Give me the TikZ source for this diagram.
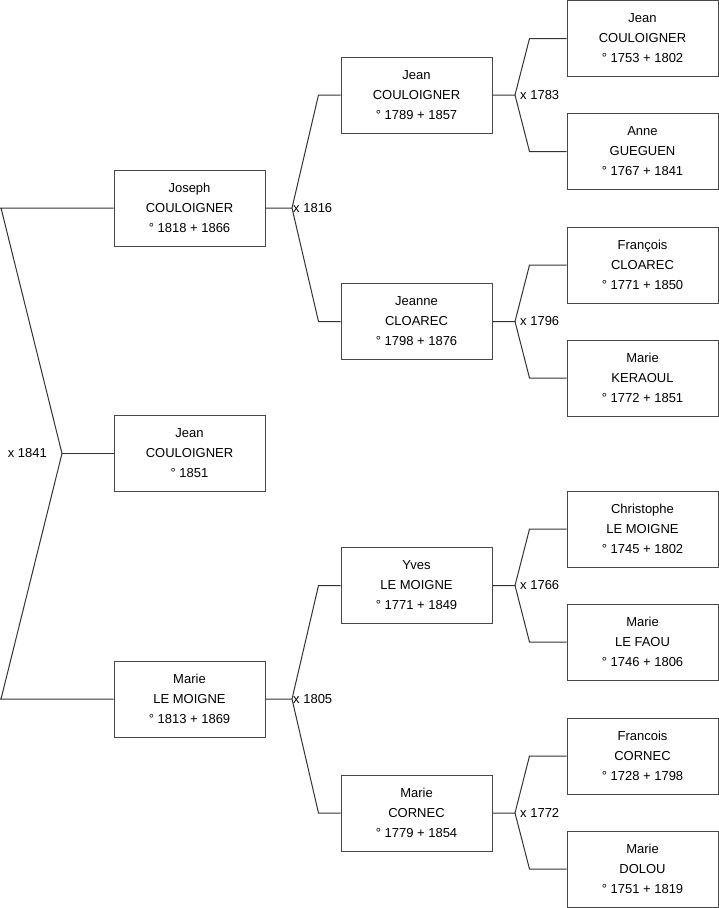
\documentclass[tikz,border=0pt]{standalone}
\usepackage{fontspec}
\setmainfont{Liberation Sans}
\usetikzlibrary{calc}
\begin{document}
\begin{tikzpicture}[x=1pt,y=-1pt,
  pbox/.style={draw=black!72,line width=1pt,minimum width=151pt,minimum height=76pt,
    align=center,inner sep=0pt,font=\fontsize{13}{20}\selectfont},
  conn/.style={draw=black!80,line width=1pt},
  mlabel/.style={font=\fontsize{13}{16}\selectfont,inner sep=0pt}]
\useasboundingbox[fill=white] (0,0) rectangle (719,908);
% column 1
\node[pbox] (joseph) at (189.5,208) {Joseph\\COULOIGNER\\° 1818 + 1866};
\node[pbox] (jean) at (189.5,453.5) {Jean\\COULOIGNER\\° 1851};
\node[pbox] (marie) at (189.5,699) {Marie\\LE MOIGNE\\° 1813 + 1869};
% column 2
\node[pbox] (jeanC) at (416.5,95) {Jean\\COULOIGNER\\° 1789 + 1857};
\node[pbox] (jeanne) at (416.5,321.5) {Jeanne\\CLOAREC\\° 1798 + 1876};
\node[pbox] (yves) at (416.5,585.5) {Yves\\LE MOIGNE\\° 1771 + 1849};
\node[pbox] (marieC) at (416.5,813) {Marie\\CORNEC\\° 1779 + 1854};
% column 3
\node[pbox] (g1) at (642.5,38.5) {Jean\\COULOIGNER\\° 1753 + 1802};
\node[pbox] (g2) at (642.5,151.5) {Anne\\GUEGUEN\\° 1767 + 1841};
\node[pbox] (g3) at (642.5,265) {François\\CLOAREC\\° 1771 + 1850};
\node[pbox] (g4) at (642.5,378) {Marie\\KERAOUL\\° 1772 + 1851};
\node[pbox] (g5) at (642.5,529) {Christophe\\LE MOIGNE\\° 1745 + 1802};
\node[pbox] (g6) at (642.5,642) {Marie\\LE FAOU\\° 1746 + 1806};
\node[pbox] (g7) at (642.5,756) {Francois\\CORNEC\\° 1728 + 1798};
\node[pbox] (g8) at (642.5,869) {Marie\\DOLOU\\° 1751 + 1819};
% left bracket
\coordinate (L1) at (1,208);
\coordinate (L2) at (1,699);
\coordinate (m0) at (62,453.5);
\draw[conn] (joseph.west) -- (0,208) (L1) -- (m0) -- (L2) (0,699) -- (marie.west);
\draw[conn] (m0) -- (jean.west);
\node[mlabel,anchor=east] (l0) at (47,453.5) {x 1841};
% junctions column 1 -> 2
\coordinate (j1) at (292,208);
\coordinate (j2) at (292,699);
\draw[conn] (joseph.east) -- (j1) -- ($(jeanC.west)+(-22,0)$) -- (jeanC.west);
\draw[conn] (j1) -- ($(jeanne.west)+(-22,0)$) -- (jeanne.west);
\draw[conn] (marie.east) -- (j2) -- ($(yves.west)+(-22,0)$) -- (yves.west);
\draw[conn] (j2) -- ($(marieC.west)+(-22,0)$) -- (marieC.west);
\node[mlabel,anchor=west] (l1) at ($(j1)+(1,0)$) {x 1816};
\node[mlabel,anchor=west] (l2) at ($(j2)+(1,0)$) {x 1805};
% junctions column 2 -> 3
\coordinate (k1) at (515,95);
\coordinate (k2) at (515,321.5);
\coordinate (k3) at (515,585.5);
\coordinate (k4) at (515,813);
\draw[conn] (jeanC.east) -- (k1) -- ($(g1.west)+(-37,0)$) -- (g1.west);
\draw[conn] (k1) -- ($(g2.west)+(-37,0)$) -- (g2.west);
\draw[conn] (jeanne.east) -- (k2) -- ($(g3.west)+(-37,0)$) -- (g3.west);
\draw[conn] (k2) -- ($(g4.west)+(-37,0)$) -- (g4.west);
\draw[conn] (yves.east) -- (k3) -- ($(g5.west)+(-37,0)$) -- (g5.west);
\draw[conn] (k3) -- ($(g6.west)+(-37,0)$) -- (g6.west);
\draw[conn] (marieC.east) -- (k4) -- ($(g7.west)+(-37,0)$) -- (g7.west);
\draw[conn] (k4) -- ($(g8.west)+(-37,0)$) -- (g8.west);
\node[mlabel,anchor=west] (l3) at ($(k1)+(5,0)$) {x 1783};
\node[mlabel,anchor=west] (l4) at ($(k2)+(5,0)$) {x 1796};
\node[mlabel,anchor=west] (l5) at ($(k3)+(5,0)$) {x 1766};
\node[mlabel,anchor=west] (l6) at ($(k4)+(5,0)$) {x 1772};
\end{tikzpicture}
\end{document}
